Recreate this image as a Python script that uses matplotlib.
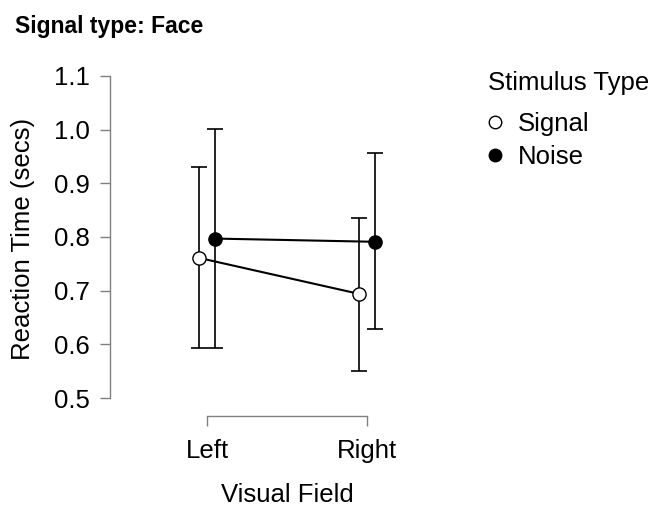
import numpy as np
import matplotlib
matplotlib.use("Agg")
from matplotlib import pyplot as plt
from matplotlib.lines import Line2D

plt.rcParams['font.family'] = ['Liberation Sans', 'DejaVu Sans']

fields = ['Left', 'Right']
signal_mean = [0.761, 0.694]
signal_lo = [0.593, 0.551]
signal_hi = [0.931, 0.836]
noise_mean = [0.797, 0.791]
noise_lo = [0.593, 0.628]
noise_hi = [1.001, 0.956]
yticks = [0.5, 0.6, 0.7, 0.8, 0.9, 1.0, 1.1]

W, H = 655, 508
fig = plt.figure(figsize=(W / 100, H / 100), dpi=100)
ax = fig.add_axes([110 / W, 1 - 416 / H, 310 / W, 346 / H])

x = np.arange(len(fields))
dodge = 0.05
gray = '#808080'

for means, lo, hi, face, off in [(signal_mean, signal_lo, signal_hi, 'white', -dodge),
                                 (noise_mean, noise_lo, noise_hi, 'black', dodge)]:
    m = np.array(means)
    yerr = [m - np.array(lo), np.array(hi) - m]
    ax.errorbar(x + off, m, yerr=yerr, fmt='none', ecolor='black', elinewidth=1.2,
                capsize=5.5, capthick=1.2, zorder=2)
    ax.plot(x + off, m, color='black', lw=1.5, zorder=3)
    ax.plot(x + off, m, 'o', ms=9.5, mfc=face, mec='black', mew=1.0, zorder=4)

ax.set_xlim(-0.606, 1.331)
ax.set_ylim(0.4665, 1.111)
ax.set_yticks(yticks)
ax.set_yticklabels([f'{v:.1f}' for v in yticks])
ax.set_xticks(x)
ax.set_xticklabels(fields)

for s in ['top', 'right']:
    ax.spines[s].set_visible(False)
for s in ['left', 'bottom']:
    ax.spines[s].set_color(gray)
    ax.spines[s].set_linewidth(1.0)
ax.spines['left'].set_bounds(0.5, 1.1)
ax.spines['bottom'].set_bounds(0, 1)
ax.tick_params(axis='both', colors=gray, labelcolor='black', labelsize=18.5,
               length=7.5, width=1.0)
ax.tick_params(axis='y', pad=7)
ax.tick_params(axis='x', pad=9)

fig.text(15 / W, 1 - 15 / H, 'Signal type: Face', fontsize=16.5, fontweight='bold',
         ha='left', va='top')
fig.text(23 / W, 1 - 239 / H, 'Reaction Time (secs)', fontsize=18.5, rotation=90,
         ha='center', va='center')
fig.text(287 / W, 1 - 495 / H, 'Visual Field', fontsize=18.5, ha='center', va='center')

fig.text(488 / W, 1 - 83 / H, 'Stimulus Type', fontsize=18.5, ha='left', va='center')
handles = [Line2D([], [], ls='none', marker='o', ms=9, mfc='white', mec='black', mew=1.0),
           Line2D([], [], ls='none', marker='o', ms=9, mfc='black', mec='black', mew=1.0)]
fig.legend(handles, ['Signal', 'Noise'], loc='center left',
           bbox_to_anchor=(482 / W, 1 - 140.5 / H), frameon=False, fontsize=18.5,
           handletextpad=0.4, handlelength=1.0, labelspacing=0.35,
           borderpad=0, borderaxespad=0)

fig.savefig('out.png', dpi=100)
